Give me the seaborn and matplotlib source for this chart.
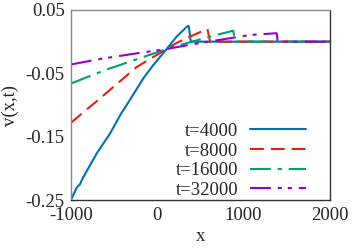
import numpy as np
import pandas as pd
import matplotlib
matplotlib.use("Agg")
import matplotlib.pyplot as plt
import seaborn as sns

# ---- data ----
labels = ["t=4000", "t=8000", "t=16000", "t=32000"]

x_4000 = [-1000, -940, -920, -900, -858, -700, -548, -413, -336, -163, -47, 108, 224, 330, 355, 365, 387, 400, 2000]
v_4000 = [-0.25, -0.232, -0.228, -0.226, -0.214, -0.176, -0.145, -0.112, -0.096, -0.058, -0.037, -0.0116, 0.008, 0.022, 0.025, 0.024, 0.001, 0.0, 0.0]

x_8000 = [-1000, -818, -702, -239, 108, 224, 379, 570, 580, 612, 2000]
v_8000 = [-0.128, -0.107, -0.094, -0.040, -0.0116, -0.002, 0.008, 0.0195, 0.020, 0.0, 0.0]

x_16000 = [-1000, -587, -200, 108, 400, 648, 880, 900, 2000]
v_16000 = [-0.066, -0.044, -0.026, -0.0116, 0.0, 0.0094, 0.0173, 0.0, 0.0]

x_32000 = [-1000, -664, -239, 108, 456, 1073, 1383, 1395, 2000]
v_32000 = [-0.036, -0.0274, -0.0184, -0.0116, -0.003, 0.0105, 0.0134, 0.0, 0.0]

xticks = [-1000, 0, 1000, 2000]
xtick_labels = ["-1000", "0", "1000", "2000"]
yticks = [-0.25, -0.15, -0.05, 0.05]
ytick_labels = ["-0.25", "-0.15", "-0.05", "0.05"]

colors = {"t=4000": "#0072b2", "t=8000": "#e51e10", "t=16000": "#009e73", "t=32000": "#9400d3"}
dashes = {"t=4000": "", "t=8000": (10, 5), "t=16000": (15, 5, 2.9, 5),
          "t=32000": (15, 5, 2.9, 4.3, 2.9, 5)}

frames = []
for lab, xs, vs in zip(labels, [x_4000, x_8000, x_16000, x_32000],
                       [v_4000, v_8000, v_16000, v_32000]):
    frames.append(pd.DataFrame({"x": xs, "v": vs, "t": lab}))
df = pd.concat(frames, ignore_index=True)

sns.set_style("white")
plt.rcParams["font.family"] = ["Liberation Serif", "DejaVu Serif"]
plt.rcParams["axes.unicode_minus"] = False
plt.rcParams["lines.scale_dashes"] = False

fig, ax = plt.subplots(figsize=(3.54, 2.48), dpi=100)
fig.subplots_adjust(left=0.2006, right=0.932, bottom=0.1935, top=0.9597)

sns.lineplot(data=df, x="x", y="v", hue="t", style="t", hue_order=labels,
             style_order=labels, palette=colors, dashes=dashes, estimator=None,
             sort=False, linewidth=1.5, legend=False, ax=ax)

ax.set_xlim(-1000, 2000)
ax.set_ylim(-0.25, 0.05)
ax.set_xticks(xticks, labels=xtick_labels)
ax.set_yticks(yticks, labels=ytick_labels)
ax.set_xlabel("x", fontsize=13.5, labelpad=3)
ax.set_ylabel("v(x,t)", fontsize=13.5, labelpad=5)
ax.tick_params(axis="both", labelsize=13.5, color="#888888")
ax.tick_params(axis="x", direction="in", length=4, width=0.8, pad=5)
ax.tick_params(axis="y", direction="inout", length=7, width=0.8, pad=1)

for side in ["left", "top"]:
    ax.spines[side].set_color("#888888")
for side in ["right", "bottom"]:
    ax.spines[side].set_color("#333333")
for s in ax.spines.values():
    s.set_linewidth(1.0)

ax.legend(ax.lines[:4], labels, loc="lower right", bbox_to_anchor=(0.907, 0.005),
          markerfirst=False, frameon=False, fontsize=13.5, handlelength=3.0,
          handletextpad=0.6, labelspacing=0.14, borderpad=0, borderaxespad=0)

fig.savefig("out.png", dpi=100)
